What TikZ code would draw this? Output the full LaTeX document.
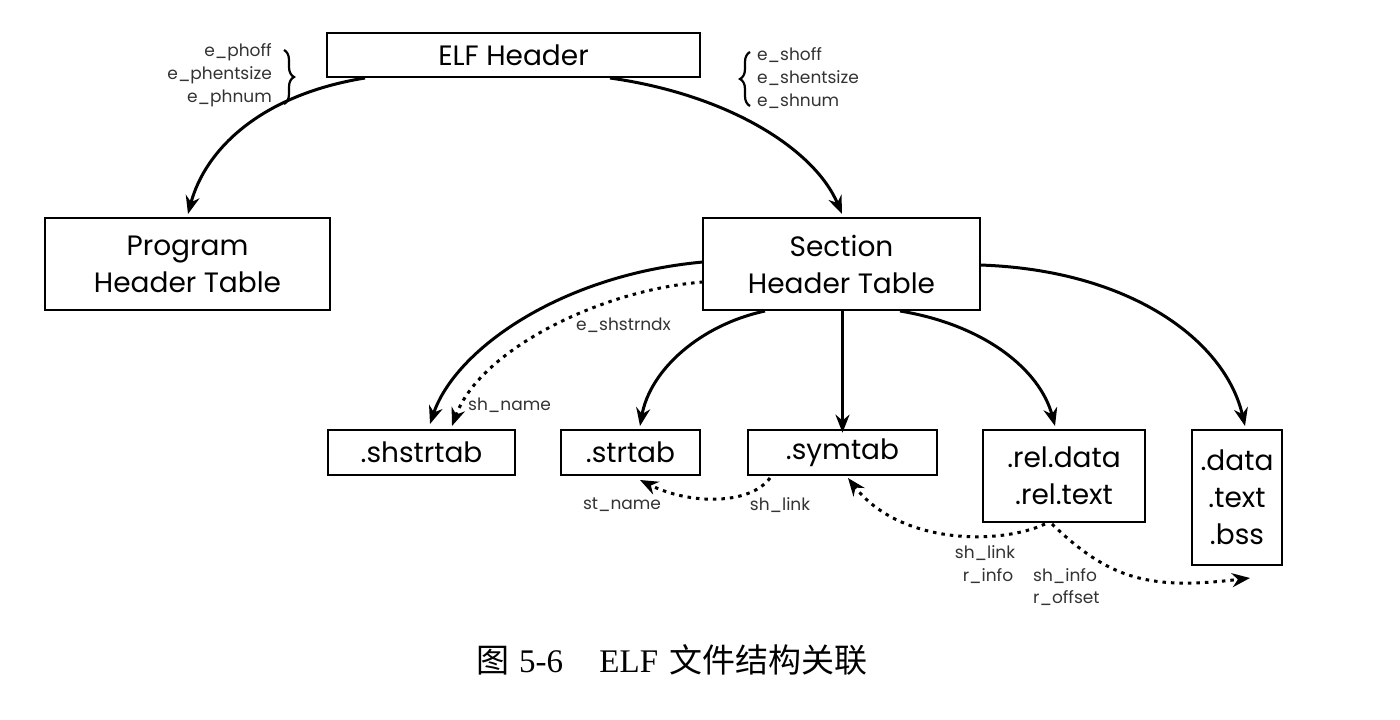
\documentclass[tikz,border=0pt]{standalone}
\usepackage{fontspec}
\setmainfont{Poppins}
\newfontfamily\cjk{Noto Sans CJK SC}
\newfontfamily\capserif{Liberation Serif}
\usetikzlibrary{arrows.meta,decorations.pathreplacing}
\begin{document}
\begin{tikzpicture}[x=1pt,y=-1pt,
  box/.style={draw,line width=2.6pt,inner sep=0pt,align=center,font=\fontsize{28}{37}\selectfont},
  lbl/.style={inner sep=0pt,font=\fontsize{17}{19}\selectfont,text=black!80},
  conn/.style={line width=3pt,-{Stealth[length=18pt,width=14pt]}},
  dconn/.style={line width=3pt,dash pattern=on 3.5pt off 5pt,-{Stealth[length=18pt,width=14pt]}},
  brc/.style={line width=2.2pt,decorate,decoration={brace,amplitude=10pt}}]
\useasboundingbox (0,0) rectangle (1400,720);
\fill[white] (0,0) rectangle (1400,720);
% boxes
\node[box,minimum width=373,minimum height=44] (elf) at (513.5,55) {ELF Header};
\node[box,minimum width=285,minimum height=92] (prog) at (187.5,264) {Program\\Header Table};
\node[box,minimum width=277,minimum height=92] (sect) at (841.5,264) {Section\\Header Table};
\node[box,minimum width=187,minimum height=45] (shstr) at (421.5,452.5) {.shstrtab};
\node[box,minimum width=139,minimum height=45] (str) at (630.5,452.5) {.strtab};
\node[box,minimum width=189,minimum height=45] (sym) at (842.5,452.5) {.symtab};
\node[box,minimum width=162,minimum height=92] (rel) at (1064,476) {.rel.data\\.rel.text};
\node[box,minimum width=90,minimum height=135] (dat) at (1237,497.5) {.data\\.text\\.bss};
% labels
\node[lbl,anchor=east] (l1) at (272,52) {e\_phoff};
\node[lbl,anchor=east] (l2) at (272,75) {e\_phentsize};
\node[lbl,anchor=east] (l3) at (272,98) {e\_phnum};
\node[lbl,anchor=west] (r1) at (757,55) {e\_shoff};
\node[lbl,anchor=west] (r2) at (757,78) {e\_shentsize};
\node[lbl,anchor=west] (r3) at (757,101) {e\_shnum};
\coordinate (lb1) at (284,50);
\coordinate (lb2) at (284,104);
\coordinate (rb1) at (750,52);
\coordinate (rb2) at (750,106);
\draw[brc] (lb1) -- (lb2);
\draw[brc] (rb2) -- (rb1);
% connectors from ELF header
\coordinate (e1) at (365,78);
\coordinate (e2) at (610,78);
\coordinate (p1) at (188,214);
\coordinate (s1) at (842,214);
\draw[conn] (e1) .. controls (260,95) and (205,150) .. (p1);
\draw[conn] (e2) .. controls (730,95) and (815,150) .. (s1);
% from section header table
\coordinate (sa) at (703,262);
\coordinate (sb) at (703,282);
\coordinate (sc) at (765,311);
\coordinate (sd) at (900,311);
\coordinate (se) at (980,265);
\coordinate (ta) at (430,424);
\coordinate (tb) at (452,426);
\coordinate (tc) at (640,426);
\coordinate (td) at (1055,426);
\coordinate (te) at (1245,426);
\draw[conn] (sa) .. controls (560,275) and (455,350) .. (ta);
\draw[dconn] (sb) .. controls (600,290) and (480,350) .. (tb);
\draw[conn] (sc) .. controls (700,325) and (650,370) .. (tc);
\draw[conn] (sect.south -| sym.north) -- ([yshift=-4pt]sym.north);
\draw[conn] (sd) .. controls (985,325) and (1040,370) .. (td);
\draw[conn] (se) .. controls (1130,270) and (1225,340) .. (te);
\node[lbl,anchor=west] (lx) at (576,325) {e\_shstrndx};
\node[lbl,anchor=west] (ln) at (468,405) {sh\_name};
% dotted bottom relations
\coordinate (ya) at (770,478);
\coordinate (xa) at (640,480);
\draw[dconn] (ya) .. controls (750,505) and (690,505) .. (xa);
\node[lbl] (lst) at (622,505) {st\_name};
\node[lbl] (lsl) at (780,505) {sh\_link};
\coordinate (ra) at (1045,524);
\coordinate (yb) at (848,478);
\draw[dconn] (ra) .. controls (1000,545) and (900,545) .. (yb);
\coordinate (rb) at (1052,524);
\coordinate (da) at (1250,578);
\draw[dconn] (rb) .. controls (1110,580) and (1150,590) .. (da);
\node[lbl] (lsl2) at (985,553) {sh\_link};
\node[lbl] (lri) at (988,576) {r\_info};
\node[lbl,anchor=west] (lsi) at (1033,576) {sh\_info};
\node[lbl,anchor=west] (lro) at (1033,598) {r\_offset};
% caption
\node[inner sep=0pt,font=\fontsize{33}{35}\selectfont] (cap) at (672,660) {{\cjk 图}\hspace{0.3em}{\capserif 5-6}\hspace{1.1em}{\capserif ELF}\hspace{0.35em}{\cjk 文件结构关联}};
\end{tikzpicture}
\end{document}
